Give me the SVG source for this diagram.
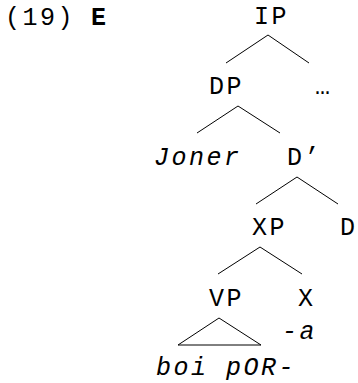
<svg xmlns="http://www.w3.org/2000/svg" width="358" height="383" viewBox="0 0 358 383">
<style>
text{font-family:"Liberation Mono","Courier New",monospace;font-size:25px;letter-spacing:2.5px;fill:#000}
.i{font-style:italic}
.b{font-weight:bold}
line,polygon{stroke:#000;stroke-width:1;fill:none}
</style>
<rect width="358" height="383" fill="#fff"/>
<text x="5" y="25">(19)</text>
<text class="b" x="91" y="25">E</text>
<g id="connectors">
<line x1="268" y1="35" x2="226" y2="63"/>
<line x1="268" y1="35" x2="309" y2="63"/>
<line x1="238" y1="106" x2="197" y2="133"/>
<line x1="238" y1="106" x2="280" y2="133"/>
<line x1="297" y1="177" x2="256" y2="204"/>
<line x1="297" y1="177" x2="338" y2="204"/>
<line x1="260" y1="247" x2="218" y2="274"/>
<line x1="260" y1="247" x2="302" y2="274"/>
<polygon points="219,318 178,345 261,345"/>
</g>
<g id="IP"><text x="254" y="24">IP</text></g>
<g id="DP"><text x="209" y="94">DP</text></g>
<g id="dots"><text x="315" y="94">…</text></g>
<g id="Joner"><text class="i" x="154" y="165">Joner</text></g>
<g id="Dbar"><text x="287" y="165">D’</text></g>
<g id="XP"><text x="252" y="235">XP</text></g>
<g id="D"><text x="340" y="235">D</text></g>
<g id="VP"><text x="209" y="306">VP</text></g>
<g id="X"><text x="298" y="306">X</text></g>
<g id="a"><text class="i" x="282" y="339">-a</text></g>
<g id="boi"><text class="i" x="156" y="375">boi pOR-</text></g>
</svg>
